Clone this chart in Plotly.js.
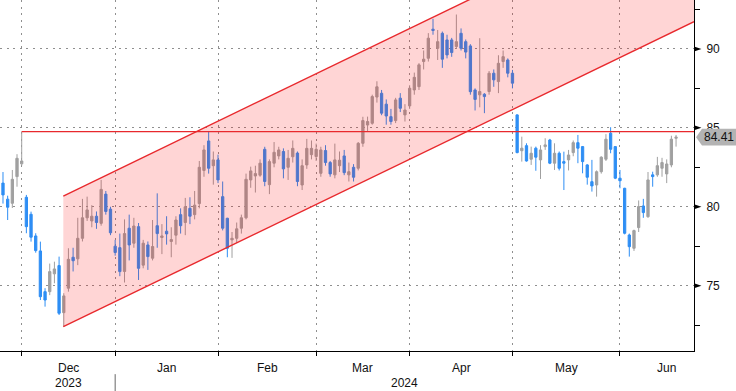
<!DOCTYPE html>
<html><head><meta charset="utf-8">
<script src="https://cdn.plot.ly/plotly-3.0.1.min.js"></script>
<style>html,body{margin:0;padding:0;background:#fff}#chart{width:736px;height:391px}</style>
</head><body><div id="chart"></div>
<script>
// ---- data ----
const dates = [
'2023-11-24','2023-11-27','2023-11-28','2023-11-29','2023-11-30',
'2023-12-01','2023-12-04','2023-12-05','2023-12-06','2023-12-07','2023-12-08','2023-12-11','2023-12-12','2023-12-13','2023-12-14','2023-12-15','2023-12-18','2023-12-19','2023-12-20','2023-12-21','2023-12-22','2023-12-26','2023-12-27','2023-12-28','2023-12-29',
'2024-01-02','2024-01-03','2024-01-04','2024-01-05','2024-01-08','2024-01-09','2024-01-10','2024-01-11','2024-01-12','2024-01-15','2024-01-16','2024-01-17','2024-01-18','2024-01-19','2024-01-22','2024-01-23','2024-01-24','2024-01-25','2024-01-26','2024-01-29','2024-01-30','2024-01-31',
'2024-02-01','2024-02-02','2024-02-05','2024-02-06','2024-02-07','2024-02-08','2024-02-09','2024-02-12','2024-02-13','2024-02-14','2024-02-15','2024-02-16','2024-02-19','2024-02-20','2024-02-21','2024-02-22','2024-02-23','2024-02-26','2024-02-27','2024-02-28','2024-02-29',
'2024-03-01','2024-03-04','2024-03-05','2024-03-06','2024-03-07','2024-03-08','2024-03-11','2024-03-12','2024-03-13','2024-03-14','2024-03-15','2024-03-18','2024-03-19','2024-03-20','2024-03-21','2024-03-22','2024-03-25','2024-03-26','2024-03-27','2024-03-28',
'2024-04-01','2024-04-02','2024-04-03','2024-04-04','2024-04-05','2024-04-08','2024-04-09','2024-04-10','2024-04-11','2024-04-12','2024-04-15','2024-04-16','2024-04-17','2024-04-18','2024-04-19','2024-04-22','2024-04-23','2024-04-24','2024-04-25','2024-04-26','2024-04-29','2024-04-30',
'2024-05-01','2024-05-02','2024-05-03','2024-05-06','2024-05-07','2024-05-08','2024-05-09','2024-05-10','2024-05-13','2024-05-14','2024-05-15','2024-05-16','2024-05-17','2024-05-20','2024-05-21','2024-05-22','2024-05-23','2024-05-24','2024-05-27','2024-05-28','2024-05-29','2024-05-30','2024-05-31',
'2024-06-03','2024-06-04','2024-06-05','2024-06-06','2024-06-07','2024-06-10','2024-06-11','2024-06-12','2024-06-13','2024-06-14','2024-06-17','2024-06-18'
];
const open = [
81.5,80.48,80.22,81.91,82.72,
80.6,79.52,78.15,77.2,74.62,74.62,75.75,76.27,73.29,74.84,76.8,76.7,78.0,79.3,79.1,79.4,78.95,80.8,79.85,77.5,
77.41,75.9,78.64,77.69,78.74,76.3,77.58,76.74,78.8,78.05,78.45,77.8,78.2,79.5,79.0,79.9,79.5,80.2,82.3,84.17,82.6,82.97,
80.64,79.27,77.9,78.0,78.64,79.3,81.7,81.95,82.0,83.64,81.4,82.76,83.22,83.5,82.5,83.17,83.4,81.38,82.65,83.3,83.18,
82.12,83.56,82.8,82.02,82.6,83.22,82.02,82.5,82.44,84.02,85.18,85.29,86.95,87.19,86.5,85.71,85.46,86.88,85.82,86.39,
87.4,87.61,89.2,89.41,91.25,90.04,90.99,90.57,90.57,90.15,90.99,90.46,90.19,87.4,87.09,87.13,87.3,88.46,87.93,89.2,89.3,88.46,
85.82,83.55,83.87,83.01,83.71,82.97,83.81,84.23,82.76,83.39,82.86,82.97,83.43,84.06,83.81,82.65,81.59,81.38,82.22,83.01,84.66,83.81,81.81,
81.17,78.21,77.37,78.68,80.05,79.37,82.02,82.02,82.44,82.08,82.65,84.34
];
const high = [
82.2,80.7,82.33,83.33,84.76,
80.75,79.69,78.32,77.79,74.84,76.4,76.52,76.84,74.52,77.37,77.4,79.3,80.5,80.64,80.1,79.7,81.7,81.0,80.0,77.9,
78.3,79.2,79.5,79.3,78.97,77.9,77.8,79.16,80.85,78.9,79.4,78.7,79.4,79.9,80.56,80.6,81.0,82.9,83.9,84.8,83.5,83.3,
81.6,79.3,78.4,79.0,79.5,82.1,82.54,82.6,83.0,83.8,83.0,84.1,83.8,83.7,83.6,84.2,83.5,83.0,84.3,84.2,84.0,
83.8,83.9,82.9,84.0,83.5,83.6,82.8,82.7,84.1,85.7,85.71,87.1,87.95,87.4,86.8,86.2,86.9,87.2,86.5,87.7,
88.5,89.1,89.9,91.0,91.91,91.2,91.1,90.9,90.7,92.18,91.3,90.6,90.3,87.5,90.68,87.2,88.6,88.7,89.6,89.9,89.4,88.67,
85.86,84.44,84.02,83.81,83.81,83.9,84.34,84.3,84.02,83.5,83.49,83.6,84.2,84.55,83.85,82.7,82.97,82.3,83.2,84.6,85.04,83.85,82.33,
81.2,78.3,78.55,80.4,80.5,82.2,82.22,83.16,83.1,83.0,84.5,84.55
];
const low = [
80.2,79.16,79.92,81.27,82.6,
78.32,77.79,77.09,74.09,73.67,74.4,75.15,73.14,72.4,74.62,75.9,76.3,77.8,79.1,78.7,78.6,78.8,79.5,78.2,76.9,
75.6,75.2,76.6,77.4,75.36,76.1,76.0,76.6,77.4,77.0,77.6,76.8,77.6,78.3,78.2,78.9,79.2,79.9,81.9,82.1,81.4,81.5,
78.5,76.8,76.76,77.7,78.3,79.2,81.2,80.9,81.9,81.3,80.8,82.5,83.0,81.8,81.7,82.8,81.3,81.06,82.4,83.0,82.9,
81.9,82.6,81.9,81.8,82.2,82.0,81.6,81.6,82.3,83.8,84.76,85.2,86.6,85.8,85.2,85.2,85.3,86.0,85.4,86.2,
87.1,87.4,88.7,89.2,90.9,89.3,88.8,89.4,89.5,90.0,89.9,89.4,87.1,86.1,86.3,85.93,87.1,87.6,87.2,88.8,88.2,87.5,
83.39,82.86,82.86,82.65,82.28,81.76,83.6,82.7,82.33,82.3,81.06,82.3,83.2,82.76,82.12,81.4,80.96,80.64,82.1,82.9,83.39,81.75,81.17,
78.25,76.84,77.2,78.4,79.3,79.3,81.27,81.9,81.9,81.5,82.5,83.81
];
const close = [
80.75,79.97,81.74,83.07,82.9,
78.74,78.07,77.22,74.3,74.09,75.89,76.06,73.25,74.35,76.67,76.58,78.0,79.3,79.8,79.4,79.0,81.1,79.7,78.35,77.1,
75.89,78.3,77.58,78.78,76.1,77.69,76.84,77.48,78.3,78.15,78.28,77.92,79.16,78.8,80.0,79.4,80.1,82.5,83.6,82.44,82.97,81.7,
78.64,77.37,78.0,78.6,79.3,81.74,82.27,82.1,82.76,81.6,82.86,83.45,83.6,82.4,83.07,83.7,81.6,82.6,83.7,83.7,83.64,
83.6,82.8,82.08,82.97,82.95,82.16,82.22,81.87,84.02,85.46,85.4,86.98,87.6,85.93,85.75,85.4,86.77,86.24,86.13,87.51,
88.2,88.99,89.35,90.68,91.17,90.46,89.35,89.62,89.77,90.46,90.04,89.8,87.29,86.8,87.3,86.98,88.46,88.04,89.09,89.51,88.46,87.83,
83.43,83.71,82.9,83.39,83.14,83.6,83.92,82.76,83.39,82.44,82.76,83.28,84.06,83.71,82.86,81.87,81.32,82.22,83.14,84.28,83.64,81.81,81.65,
78.32,77.47,78.49,80.01,79.63,81.7,81.91,82.6,82.8,82.71,84.28,84.41
];
const yTicks = [75, 80, 85, 90];
const yMinorTicks = [72.5, 77.5, 82.5, 87.5, 92.5];
const monthNames = ['Dec', 'Jan', 'Feb', 'Mar', 'Apr', 'May', 'Jun'];
const yearNames = ['2023', '2024'];
const resistanceLevel = 84.76;
const resistanceFrom = '2023-11-30';
const lastPrice = 84.41;
// trend channel: anchored at the Dec-13 low, two parallel lines
const channelStartIdx = 12.9;
const channelLowerStart = 72.40;
const channelUpperStart = 80.68;
const channelSlopePerDay = 0.1432;

// ---- layout helpers ----
const X_RANGE = [-0.64, 147.84];
const Y_RANGE = [70.86, 93.1];
const FONT = 'Liberation Sans, Arial, sans-serif';
const RED = '#e8292d';
const xIdx = dates.map((d, i) => i);

const monthEnds = [];
for (let i = 0; i < dates.length - 1; i++) {
  if (dates[i].slice(0, 7) !== dates[i + 1].slice(0, 7)) monthEnds.push(i);
}
function weekdaysLeftInMonth(ds) {
  const d = new Date(ds + 'T00:00:00Z'); const m = d.getUTCMonth(); let n = 0;
  d.setUTCDate(d.getUTCDate() + 1);
  while (d.getUTCMonth() === m) { const w = d.getUTCDay(); if (w !== 0 && w !== 6) n++; d.setUTCDate(d.getUTCDate() + 1); }
  return n;
}
const lastIdx = dates.length - 1;
const bounds = monthEnds.concat([lastIdx + weekdaysLeftInMonth(dates[lastIdx])]);
const yearBoundary = monthEnds.find(i => dates[i].slice(0, 4) !== dates[i + 1].slice(0, 4));

const trace = {
  type: 'candlestick', x: xIdx, open: open, high: high, low: low, close: close,
  increasing: { line: { color: '#a0a0a0', width: 1 }, fillcolor: '#a0a0a0' },
  decreasing: { line: { color: '#2e8ef4', width: 1 }, fillcolor: '#2e8ef4' },
  whiskerwidth: 0, hoverinfo: 'skip', showlegend: false
};

const lowerAt = x => channelLowerStart + channelSlopePerDay * (x - channelStartIdx);
const upperAt = x => channelUpperStart + channelSlopePerDay * (x - channelStartIdx);
const s = channelStartIdx, e = X_RANGE[1];

const shapes = [
  { type: 'path', xref: 'x', yref: 'y', layer: 'above',
    path: `M${s},${lowerAt(s)} L${e},${lowerAt(e)} L${e},${upperAt(e)} L${s},${upperAt(s)} Z`,
    fillcolor: 'rgba(255,0,0,0.165)', line: { width: 0 } },
  { type: 'line', xref: 'x', yref: 'y', layer: 'above', x0: s, y0: lowerAt(s), x1: e, y1: lowerAt(e), line: { color: RED, width: 1.4 } },
  { type: 'line', xref: 'x', yref: 'y', layer: 'above', x0: s, y0: upperAt(s), x1: e, y1: upperAt(e), line: { color: RED, width: 1.4 } },
  { type: 'line', xref: 'x', yref: 'y', layer: 'above', x0: dates.indexOf(resistanceFrom), y0: resistanceLevel, x1: e, y1: resistanceLevel, line: { color: RED, width: 1.4 } },
  { type: 'line', xref: 'x', yref: 'paper', x0: yearBoundary, x1: yearBoundary, y0: -0.066, y1: -0.115, line: { color: '#666', width: 1 } }
];
yTicks.forEach(v => shapes.push({ type: 'path', xref: 'paper', yref: 'y', layer: 'above',
  path: `M1,${v + 0.16} L1.0107,${v} L1,${v - 0.16} Z`, fillcolor: '#000', line: { width: 0 } }));
shapes.push({ type: 'path', xref: 'paper', yref: 'y', layer: 'above',
  path: `M1.003,${lastPrice} L1.0115,${lastPrice + 0.53} L1.07,${lastPrice + 0.53} L1.07,${lastPrice - 0.53} L1.0115,${lastPrice - 0.53} Z`,
  fillcolor: '#b3b3b3', line: { width: 0 } });

const annotations = [];
monthNames.forEach((m, k) => annotations.push({ xref: 'x', yref: 'paper', x: (bounds[k] + bounds[k + 1]) / 2, y: -0.0484,
  text: m, showarrow: false, xanchor: 'center', yanchor: 'middle', font: { family: FONT, size: 12, color: '#111' } }));
annotations.push({ xref: 'x', yref: 'paper', x: (bounds[0] + bounds[1]) / 2, y: -0.0912, text: yearNames[0], showarrow: false,
  xanchor: 'center', yanchor: 'middle', font: { family: FONT, size: 12, color: '#111' } });
annotations.push({ xref: 'x', yref: 'paper', x: (yearBoundary + X_RANGE[1]) / 2, y: -0.0912, text: yearNames[1], showarrow: false,
  xanchor: 'center', yanchor: 'middle', font: { family: FONT, size: 12, color: '#111' } });
annotations.push({ xref: 'paper', yref: 'y', x: 1.0355, y: lastPrice, text: lastPrice.toFixed(2), showarrow: false,
  xanchor: 'center', yanchor: 'middle', font: { family: FONT, size: 12, color: '#111' } });

const GRID = '#8f8f8f';
const layout = {
  width: 736, height: 391, margin: { l: 0, r: 42, t: 0, b: 40 },
  paper_bgcolor: '#fff', plot_bgcolor: '#fff', showlegend: false,
  xaxis: { type: 'linear', range: X_RANGE, tickmode: 'array', tickvals: monthEnds, showticklabels: false,
    ticks: 'outside', ticklen: 4, tickcolor: '#000', showline: true, linecolor: '#000', linewidth: 1,
    showgrid: true, gridcolor: GRID, griddash: '2px,4.6px', gridwidth: 1, zeroline: false,
    rangeslider: { visible: false }, fixedrange: true },
  yaxis: { side: 'right', range: Y_RANGE, tickmode: 'array', tickvals: yTicks, ticktext: yTicks.map(String),
    ticks: 'outside', ticklen: 9, tickcolor: 'rgba(0,0,0,0)', showline: true, linecolor: '#000', linewidth: 1,
    showgrid: true, gridcolor: GRID, griddash: '2px,4.6px', gridwidth: 1, zeroline: false,
    tickfont: { family: FONT, size: 12, color: '#111' },
    minor: { tickmode: 'array', tickvals: yMinorTicks, ticks: 'outside', ticklen: 5, tickcolor: '#000', tickwidth: 1, showgrid: false },
    fixedrange: true },
  shapes: shapes, annotations: annotations
};
Plotly.newPlot('chart', [trace], layout, { staticPlot: true, displayModeBar: false });
</script>
</body></html>
